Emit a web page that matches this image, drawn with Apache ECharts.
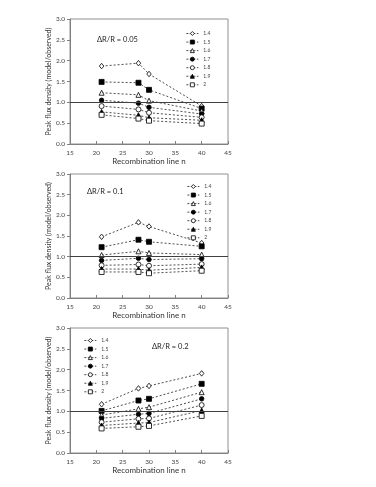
<!DOCTYPE html>
<html>
<head>
<meta charset="utf-8">
<script src="https://cdn.jsdelivr.net/npm/echarts@6/dist/echarts.min.js"></script>
<style>
html,body{margin:0;padding:0;background:#fff;}
#chart{width:376px;height:487px;}
</style>
</head>
<body>
<div id="chart"></div>
<script>
// Recombination line n (x values)
const nValues = [21, 28, 30, 40];
const seriesNames = ['1.4', '1.5', '1.6', '1.7', '1.8', '1.9', '2'];
const panelLabels = ['\u0394R/R = 0.05', '\u0394R/R = 0.1', '\u0394R/R = 0.2'];
const xTicks = [15, 20, 25, 30, 35, 40, 45];
const yTicks = [0.0, 0.5, 1.0, 1.5, 2.0, 2.5, 3.0];

// Panel 1: dR/R = 0.05
const p1_14 = [1.87, 1.94, 1.68, 0.91];
const p1_15 = [1.49, 1.47, 1.30, 0.85];
const p1_16 = [1.23, 1.18, 1.04, 0.79];
const p1_17 = [1.05, 0.98, 0.88, 0.72];
const p1_18 = [0.91, 0.83, 0.75, 0.64];
const p1_19 = [0.77, 0.69, 0.63, 0.57];
const p1_20 = [0.70, 0.61, 0.56, 0.49];

// Panel 2: dR/R = 0.1
const p2_14 = [1.48, 1.83, 1.73, 1.33];
const p2_15 = [1.23, 1.41, 1.36, 1.25];
const p2_16 = [1.04, 1.13, 1.09, 1.05];
const p2_17 = [0.91, 0.96, 0.93, 0.95];
const p2_18 = [0.79, 0.81, 0.78, 0.82];
const p2_19 = [0.70, 0.70, 0.67, 0.74];
const p2_20 = [0.63, 0.63, 0.60, 0.66];

// Panel 3: dR/R = 0.2
const p3_14 = [1.17, 1.55, 1.61, 1.91];
const p3_15 = [1.01, 1.26, 1.30, 1.66];
const p3_16 = [0.91, 1.06, 1.10, 1.46];
const p3_17 = [0.83, 0.93, 0.95, 1.30];
const p3_18 = [0.74, 0.82, 0.83, 1.15];
const p3_19 = [0.66, 0.72, 0.73, 1.02];
const p3_20 = [0.59, 0.63, 0.65, 0.89];

const panels = [
  [p1_14, p1_15, p1_16, p1_17, p1_18, p1_19, p1_20],
  [p2_14, p2_15, p2_16, p2_17, p2_18, p2_19, p2_20],
  [p3_14, p3_15, p3_16, p3_17, p3_18, p3_19, p3_20]
];

const symbols = ['diamond', 'rect', 'triangle', 'circle', 'circle', 'triangle', 'rect'];
const symFill = ['#fff', '#000', '#fff', '#000', '#fff', '#000', '#fff'];
const symSizes = [[4.5, 5.5], 5, 5, 4.5, 5, 5, 5];

const FONT = 'Lato, "Liberation Sans", sans-serif';
const grids = [
  {left: 70, top: 19, width: 158, height: 125},
  {left: 70, top: 174, width: 158, height: 124},
  {left: 70, top: 328, width: 158, height: 125}
];

const xAxes = grids.map((g, i) => ({
  type: 'value', gridIndex: i, min: xTicks[0], max: xTicks[xTicks.length - 1], interval: 5,
  name: 'Recombination line n', nameLocation: 'middle', nameGap: 13,
  nameTextStyle: {fontFamily: FONT, fontSize: 8, color: '#333'},
  axisLine: {show: true, lineStyle: {color: '#808080', width: 1}},
  axisTick: {show: true, inside: true, length: 3, lineStyle: {color: '#808080'}},
  axisLabel: {fontFamily: FONT, fontSize: 6.5, color: '#444', margin: 5},
  splitLine: {show: false}
}));

const yAxes = grids.map((g, i) => ({
  type: 'value', gridIndex: i, min: yTicks[0], max: yTicks[yTicks.length - 1], interval: 0.5,
  name: 'Peak flux density (model/observed)', nameLocation: 'middle', nameGap: 15, nameRotate: 90,
  nameTextStyle: {fontFamily: FONT, fontSize: 7, color: '#333'},
  axisLine: {show: true, lineStyle: {color: '#808080', width: 1}},
  axisTick: {show: true, inside: false, length: 3, lineStyle: {color: '#808080'}},
  axisLabel: {fontFamily: FONT, fontSize: 6.5, color: '#444', margin: 5,
    formatter: v => v.toFixed(1)},
  splitLine: {show: false}
}));

const series = [];
panels.forEach((vals, pi) => {
  vals.forEach((arr, si) => {
    const s = {
      name: seriesNames[si], type: 'line', xAxisIndex: pi, yAxisIndex: pi,
      data: nValues.map((x, k) => [x, arr[k]]),
      symbol: symbols[si], symbolSize: symSizes[si], showSymbol: true,
      itemStyle: {color: symFill[si], borderColor: '#000', borderWidth: 0.8},
      lineStyle: {color: '#000', width: 0.7, type: [2, 2]},
      emphasis: {disabled: true}, animation: false, z: 3
    };
    if (si === 0) {
      s.markLine = {
        silent: true, symbol: 'none', label: {show: false}, animation: false,
        lineStyle: {color: '#404040', width: 1, type: 'solid'},
        data: [{yAxis: 1.0}]
      };
    }
    series.push(s);
  });
});

const legendPos = [
  {left: 181, top: 26},
  {left: 182, top: 179},
  {left: 79, top: 333}
];
const legends = legendPos.map(p => ({
  data: seriesNames, orient: 'vertical', left: p.left, top: p.top,
  itemWidth: 12, itemHeight: 5, itemGap: 3.55, selectedMode: false,
  lineStyle: {color: '#000', width: 0.7, type: [2, 1.5]},
  itemStyle: {borderWidth: 0.8},
  textStyle: {fontFamily: FONT, fontSize: 5, color: '#444'}
}));

const annPos = [[97, 41], [87, 193], [152, 348]];
const graphic = panelLabels.map((t, i) => ({
  type: 'text', left: annPos[i][0], top: annPos[i][1] - 5,
  style: {text: t, font: '7.5px ' + FONT, fill: '#222'}
}));

const chart = echarts.init(document.getElementById('chart'), null, {renderer: 'canvas'});
chart.setOption({
  animation: false,
  backgroundColor: '#fff',
  grid: grids.map(g => Object.assign({show: true, borderColor: '#909090', borderWidth: 1, backgroundColor: 'transparent'}, g)),
  xAxis: xAxes,
  yAxis: yAxes,
  legend: legends,
  graphic: graphic,
  series: series
});
</script>
</body>
</html>
